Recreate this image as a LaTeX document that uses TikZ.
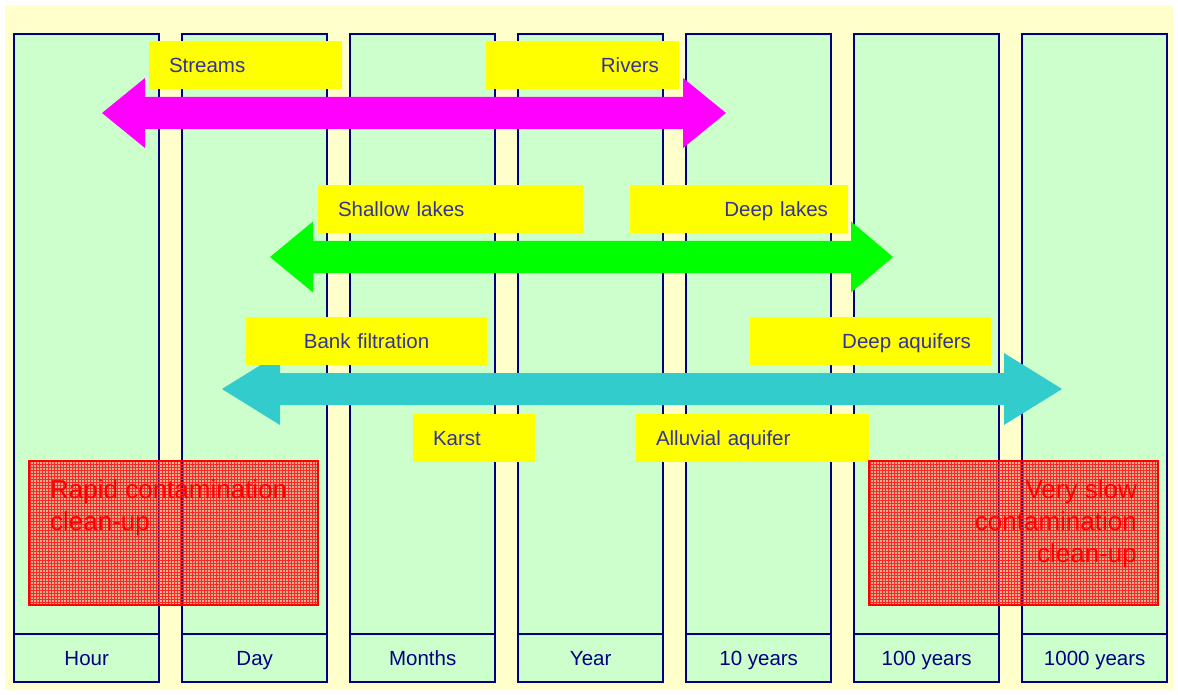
\documentclass[tikz,border=0pt]{standalone}
\usepackage{fontspec}
\setmainfont{Liberation Sans}
\usetikzlibrary{patterns}
\definecolor{bgyel}{RGB}{255,255,204}
\definecolor{colgreen}{RGB}{204,255,204}
\definecolor{navy}{RGB}{0,0,128}
\definecolor{lbltext}{RGB}{51,51,153}
\definecolor{arrmag}{RGB}{255,0,255}
\definecolor{arrgreen}{RGB}{0,255,0}
\definecolor{arrcyan}{RGB}{51,204,204}
\definecolor{boxyel}{RGB}{255,255,0}
\newcommand\dblarr[8]{%
  \fill[#1] (#2,#6) -- (#3,#6-#8) -- (#3,#6-#7) -- (#4,#6-#7) -- (#4,#6-#8) -- (#5,#6)
   -- (#4,#6+#8) -- (#4,#6+#7) -- (#3,#6+#7) -- (#3,#6+#8) -- cycle;}
\tikzset{
  colbody/.style={draw=navy, line width=2.4pt, fill=colgreen, minimum width=145pt, minimum height=600pt, inner sep=0pt, anchor=north west},
  collabel/.style={draw=navy, line width=2.4pt, fill=colgreen, minimum width=145pt, minimum height=48pt, inner sep=0pt, anchor=north west,
     font=\fontsize{20.5}{24}\selectfont, text=navy, text height=15pt, text depth=0pt},
  ybox/.style={fill=boxyel, minimum height=48pt, inner xsep=20pt, inner ysep=0pt,
     font=\fontsize{20.5}{24}\selectfont, text=lbltext, text height=15pt, text depth=0pt},
  redfill/.style={fill=red, fill opacity=0.3},
  redgrid/.style={pattern=grid, pattern color=red!85, fill opacity=0.35},
  redframe/.style={draw=red, line width=2pt},
  redtext/.style={text=red, font=\fontsize{26}{32}\selectfont, inner sep=0pt}
}
\begin{document}
\begin{tikzpicture}[x=1pt,y=-1pt]
\useasboundingbox (0,0) rectangle (1178,695);
\fill[bgyel] (5,5) rectangle (1173,690);
% columns
\foreach \i/\lab in {0/Hour,1/Day,2/Months,3/Year,4/10 years,5/100 years,6/1000 years}{
  \node[colbody] (col\i) at ({13+168*\i},33) {};
  \node[collabel] (lab\i) at ({13+168*\i},633) {\lab};
}
% arrows
\dblarr{arrmag}{102}{145}{683}{726}{113}{16}{35}
\dblarr{arrgreen}{270}{313}{851}{893}{257}{16}{35.5}
\dblarr{arrcyan}{222}{280}{1004}{1062}{389}{16}{36}
% yellow boxes
\node[ybox, text width={193pt-40pt}, align=left] (streams) at (245.5,65) {Streams};
\node[ybox, text width={193pt-40pt}, align=right] (rivers) at (582.5,65) {Rivers};
\node[ybox, text width={265pt-40pt}, align=left] (shallow) at (450.5,209.5) {Shallow lakes};
\node[ybox, text width={218pt-40pt}, align=right] (deeplakes) at (739,209.5) {Deep lakes};
\node[ybox, text width={241pt-40pt}, align=center] (bank) at (366.5,341) {Bank filtration};
\node[ybox, text width={241pt-40pt}, align=right] (deepaq) at (870.5,341) {Deep aquifers};
\node[ybox, text width={122pt-40pt}, align=left] (karst) at (474,437.5) {Karst};
\node[ybox, text width={233pt-40pt}, align=left] (alluvial) at (752.5,437.5) {Alluvial aquifer};
% red boxes
\fill[redfill] (29,461) rectangle (318,605);
\fill[redgrid] (29,461) rectangle (318,605);
\draw[redframe] (29,461) rectangle (318,605);
\fill[redfill] (869,461) rectangle (1158,605);
\fill[redgrid] (869,461) rectangle (1158,605);
\draw[redframe] (869,461) rectangle (1158,605);
\node[redtext, anchor=base west] (rapid1) at (50,498) {Rapid contamination};
\node[redtext, anchor=base west] (rapid2) at (50,530) {clean-up};
\node[redtext, anchor=base east] (slow1) at (1137,498) {Very slow};
\node[redtext, anchor=base east] (slow2) at (1137,530) {contamination};
\node[redtext, anchor=base east] (slow3) at (1137,562) {clean-up};
\end{tikzpicture}
\end{document}
